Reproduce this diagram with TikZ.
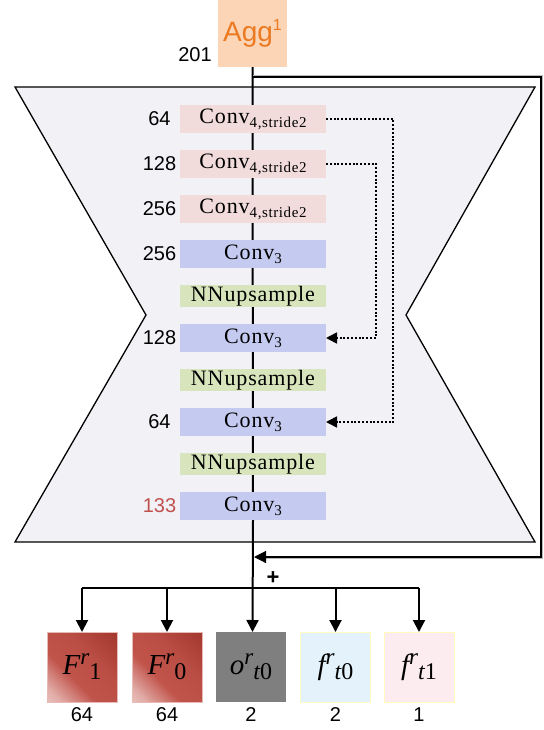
\documentclass[tikz,border=0pt]{standalone}
\usepackage{fontspec}
\setmainfont{Liberation Serif}
\setsansfont{Liberation Sans}
\newfontfamily\convfont[LetterSpace=4]{Liberation Serif}
\usetikzlibrary{arrows.meta,calc}
\pgfdeclarelayer{back}
\pgfdeclarelayer{mid}
\pgfsetlayers{back,mid,main}
\definecolor{pinkbox}{HTML}{F2DCDB}
\definecolor{bluebox}{HTML}{C5CAF0}
\definecolor{greenbox}{HTML}{D8E4BC}
\definecolor{aggfill}{HTML}{FBD5B5}
\definecolor{aggtext}{HTML}{EB7A22}
\definecolor{hourfill}{HTML}{F2F1F6}
\definecolor{redlab}{HTML}{C0504D}
\definecolor{Fdark}{HTML}{A3382F}
\definecolor{Fmid}{HTML}{C0534A}
\definecolor{Flight}{HTML}{F8E6E4}
\definecolor{ogray}{HTML}{7F7F7F}
\definecolor{fblue}{HTML}{E4F3FB}
\definecolor{fpink}{HTML}{FDECEF}
\pgfdeclareverticalshading{Fshade}{100bp}{color(0bp)=(Flight); color(22bp)=(Flight!60!Fmid); color(40bp)=(Fmid); color(60bp)=(Fmid!80!Fdark); color(85bp)=(Fdark); color(100bp)=(Fdark)}
\newcommand{\cs}[1]{{\convfont\fontsize{22}{22}\selectfont Conv}\raisebox{-4pt}{\convfont\fontsize{15}{15}\selectfont #1}}
\newcommand{\blab}[3]{{\fontsize{29}{29}\selectfont\itshape #1}\raisebox{10pt}{\fontsize{23}{23}\selectfont\itshape #2}\raisebox{-5pt}{\fontsize{24}{24}\selectfont #3}}
\begin{document}
\begin{tikzpicture}[x=1pt,y=-1pt,
  lay/.style={minimum width=146pt, inner sep=0pt, outer sep=0pt},
  pinkl/.style={lay, fill=pinkbox, minimum height=28pt},
  bluel/.style={lay, fill=bluebox, minimum height=28pt},
  greenl/.style={lay, fill=greenbox, minimum height=22pt, font=\convfont\fontsize{22}{22}\selectfont},
  numlab/.style={font=\sffamily\fontsize{20}{20}\selectfont, inner sep=0pt},
  imgbox/.style={minimum width=70pt, minimum height=70pt, inner sep=0pt, outer sep=0pt},
  Fbox/.style={imgbox, shading=Fshade, shading angle=-45, draw=Flight!70!Fmid, line width=0.8pt},
  arr/.style={-{Triangle[length=12pt,width=12pt]}},
  dotline/.style={line width=1.7pt, dash pattern=on 2pt off 1.8pt, -{Triangle[length=11pt,width=11pt]}}
]
\useasboundingbox (0,0) rectangle (543,730);
% hourglass
\begin{pgfonlayer}{back}
\path[fill=hourfill, draw=black, line width=1.3pt, line join=miter]
  (15,87) -- (535,87) -- (406,315) -- (535,542) -- (15,542) -- (146,315) -- cycle;
\end{pgfonlayer}
% agg
\node[fill=aggfill, minimum width=69pt, minimum height=67pt, inner sep=0pt, text=aggtext,
  font=\sffamily\fontsize{28}{28}\selectfont] (agg) at (252.5,33.5)
  {Agg\raisebox{11pt}{\fontsize{16}{16}\selectfont 1}};
\node[numlab] (n201) at (195,55) {201};
% layer boxes
\node[pinkl] (p1) at (253,119) {\cs{4,stride2}};
\node[pinkl] (p2) at (253,164) {\cs{4,stride2}};
\node[pinkl] (p3) at (253,209) {\cs{4,stride2}};
\node[bluel] (c1) at (253,254) {\cs{3}};
\node[greenl] (u1) at (253,296) {NNupsample};
\node[bluel] (c2) at (253,338) {\cs{3}};
\node[greenl] (u2) at (253,380) {NNupsample};
\node[bluel] (c3) at (253,422) {\cs{3}};
\node[greenl] (u3) at (253,464) {NNupsample};
\node[bluel] (c4) at (253,506) {\cs{3}};
% channel labels
\node[numlab] (l1) at (159.5,119) {64};
\node[numlab] (l2) at (159.5,164) {128};
\node[numlab] (l3) at (159.5,209) {256};
\node[numlab] (l4) at (159.5,254) {256};
\node[numlab] (l5) at (159.5,338) {128};
\node[numlab] (l6) at (159.5,422) {64};
\node[numlab, text=redlab] (l7) at (159.5,506) {133};
% output images
\node[Fbox] (F1) at (82,667) {\blab{F}{r}{1}};
\node[Fbox] (F0) at (167,667) {\blab{F}{r}{0}};
\node[imgbox, fill=ogray] (o) at (251,667) {\blab{o}{r}{\itshape t\upshape 0}};
\node[imgbox, fill=fblue, draw=yellow!25, line width=0.6pt] (ft0) at (335.5,667) {\blab{f}{r}{\itshape t\upshape 0}};
\node[imgbox, fill=fpink, draw=yellow!25, line width=0.6pt] (ft1) at (419,667) {\blab{f}{r}{\itshape t\upshape 1}};
\node[numlab] (b1) at (82,715) {64};
\node[numlab] (b2) at (167,715) {64};
\node[numlab] (b3) at (251,715) {2};
\node[numlab] (b4) at (335.5,715) {2};
\node[numlab] (b5) at (419,715) {1};
\node[font=\sffamily\bfseries\fontsize{22}{22}\selectfont, inner sep=0pt] (plus) at (273,578) {+};
% coordinates
\coordinate (split) at (253,77);
\coordinate (sk1) at (541,77);
\coordinate (sk2) at (541,557);
\coordinate (skend) at (254,557);
\coordinate (dist) at (253,588);
\coordinate (d1) at (393,0);
\coordinate (d2) at (376,0);
% main line
\begin{pgfonlayer}{mid}
\draw[line width=2pt] (agg.south) -- (c4.south);
\end{pgfonlayer}
\draw[line width=2pt, arr] (c4.south) -- (agg.south |- o.north);
% skip connection
\draw[line width=3pt, draw=gray!55] (split) -- (sk1) -- (sk2) -- ($(skend)+(10,0)$);
\draw[line width=1.2pt, arr, line join=miter] (split) -- (sk1) -- (sk2) -- (skend);
% distribution
\draw[line width=2pt] (F1.north |- dist) -- (ft1.north |- dist);
\draw[line width=2pt, arr] (F1.north |- dist) -- (F1.north);
\draw[line width=2pt, arr] (F0.north |- dist) -- (F0.north);
\draw[line width=2pt, arr] (ft0.north |- dist) -- (ft0.north);
\draw[line width=2pt, arr] (ft1.north |- dist) -- (ft1.north);
% dotted skips
\draw[dotline] (p1.east) -- (p1.east -| d1) -- (c3.east -| d1) -- (c3.east);
\draw[dotline] (p2.east) -- (p2.east -| d2) -- (c2.east -| d2) -- (c2.east);
\end{tikzpicture}
\end{document}
